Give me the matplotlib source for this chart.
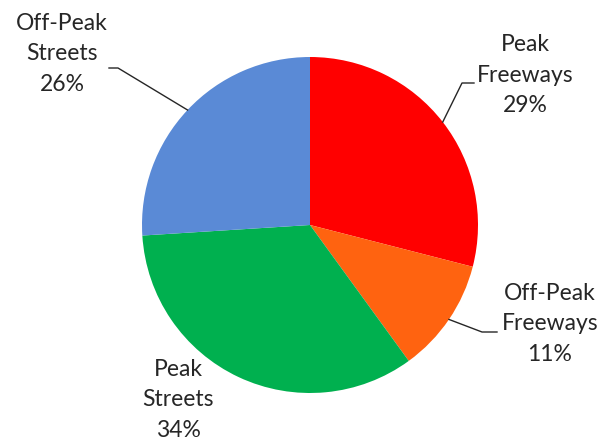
import numpy as np
import matplotlib
matplotlib.use("Agg")
import matplotlib.pyplot as plt

labels = ["Peak\nFreeways", "Off-Peak\nFreeways", "Peak\nStreets", "Off-Peak\nStreets"]
shares = [29, 11, 34, 26]
colors = ["#FF0000", "#FF6310", "#00B04F", "#5A8AD6"]

# label text centres (pixels, y from top) and leader kink points
label_pos = [(525, 75), (550, 324), (178, 400), (62, 54)]
kinks = [[(462, 83), (474, 83)], [(482, 332), (497, 332)], None, [(118, 68), (109, 68)]]

W, H = 604, 442
CX, CY, R = 310, 225, 168

fig = plt.figure(figsize=(W / 100, H / 100), dpi=100)
ax = fig.add_axes([0, 0, 1, 1])

wedges, _ = ax.pie(shares, colors=colors, startangle=90, counterclock=False,
                   center=(CX, H - CY), radius=R, wedgeprops=dict(linewidth=0))
ax.set_xlim(0, W)
ax.set_ylim(0, H)
ax.set_aspect("equal")
ax.axis("off")

for w, lab, s, pos, k in zip(wedges, labels, shares, label_pos, kinks):
    ax.text(pos[0], H - pos[1], f"{lab}\n{s}%", ha="center", va="center",
            fontsize=16.5, family=["Lato", "DejaVu Sans"], color="#262626",
            linespacing=1.55)
    if k is None:
        continue
    mid = np.deg2rad((w.theta1 + w.theta2) / 2)
    ex = CX + R * np.cos(mid)
    ey = H - CY + R * np.sin(mid)
    xs = [ex] + [p[0] for p in k]
    ys = [ey] + [H - p[1] for p in k]
    ax.plot(xs, ys, color="#262626", linewidth=1)

plt.savefig("out.png", dpi=100)
